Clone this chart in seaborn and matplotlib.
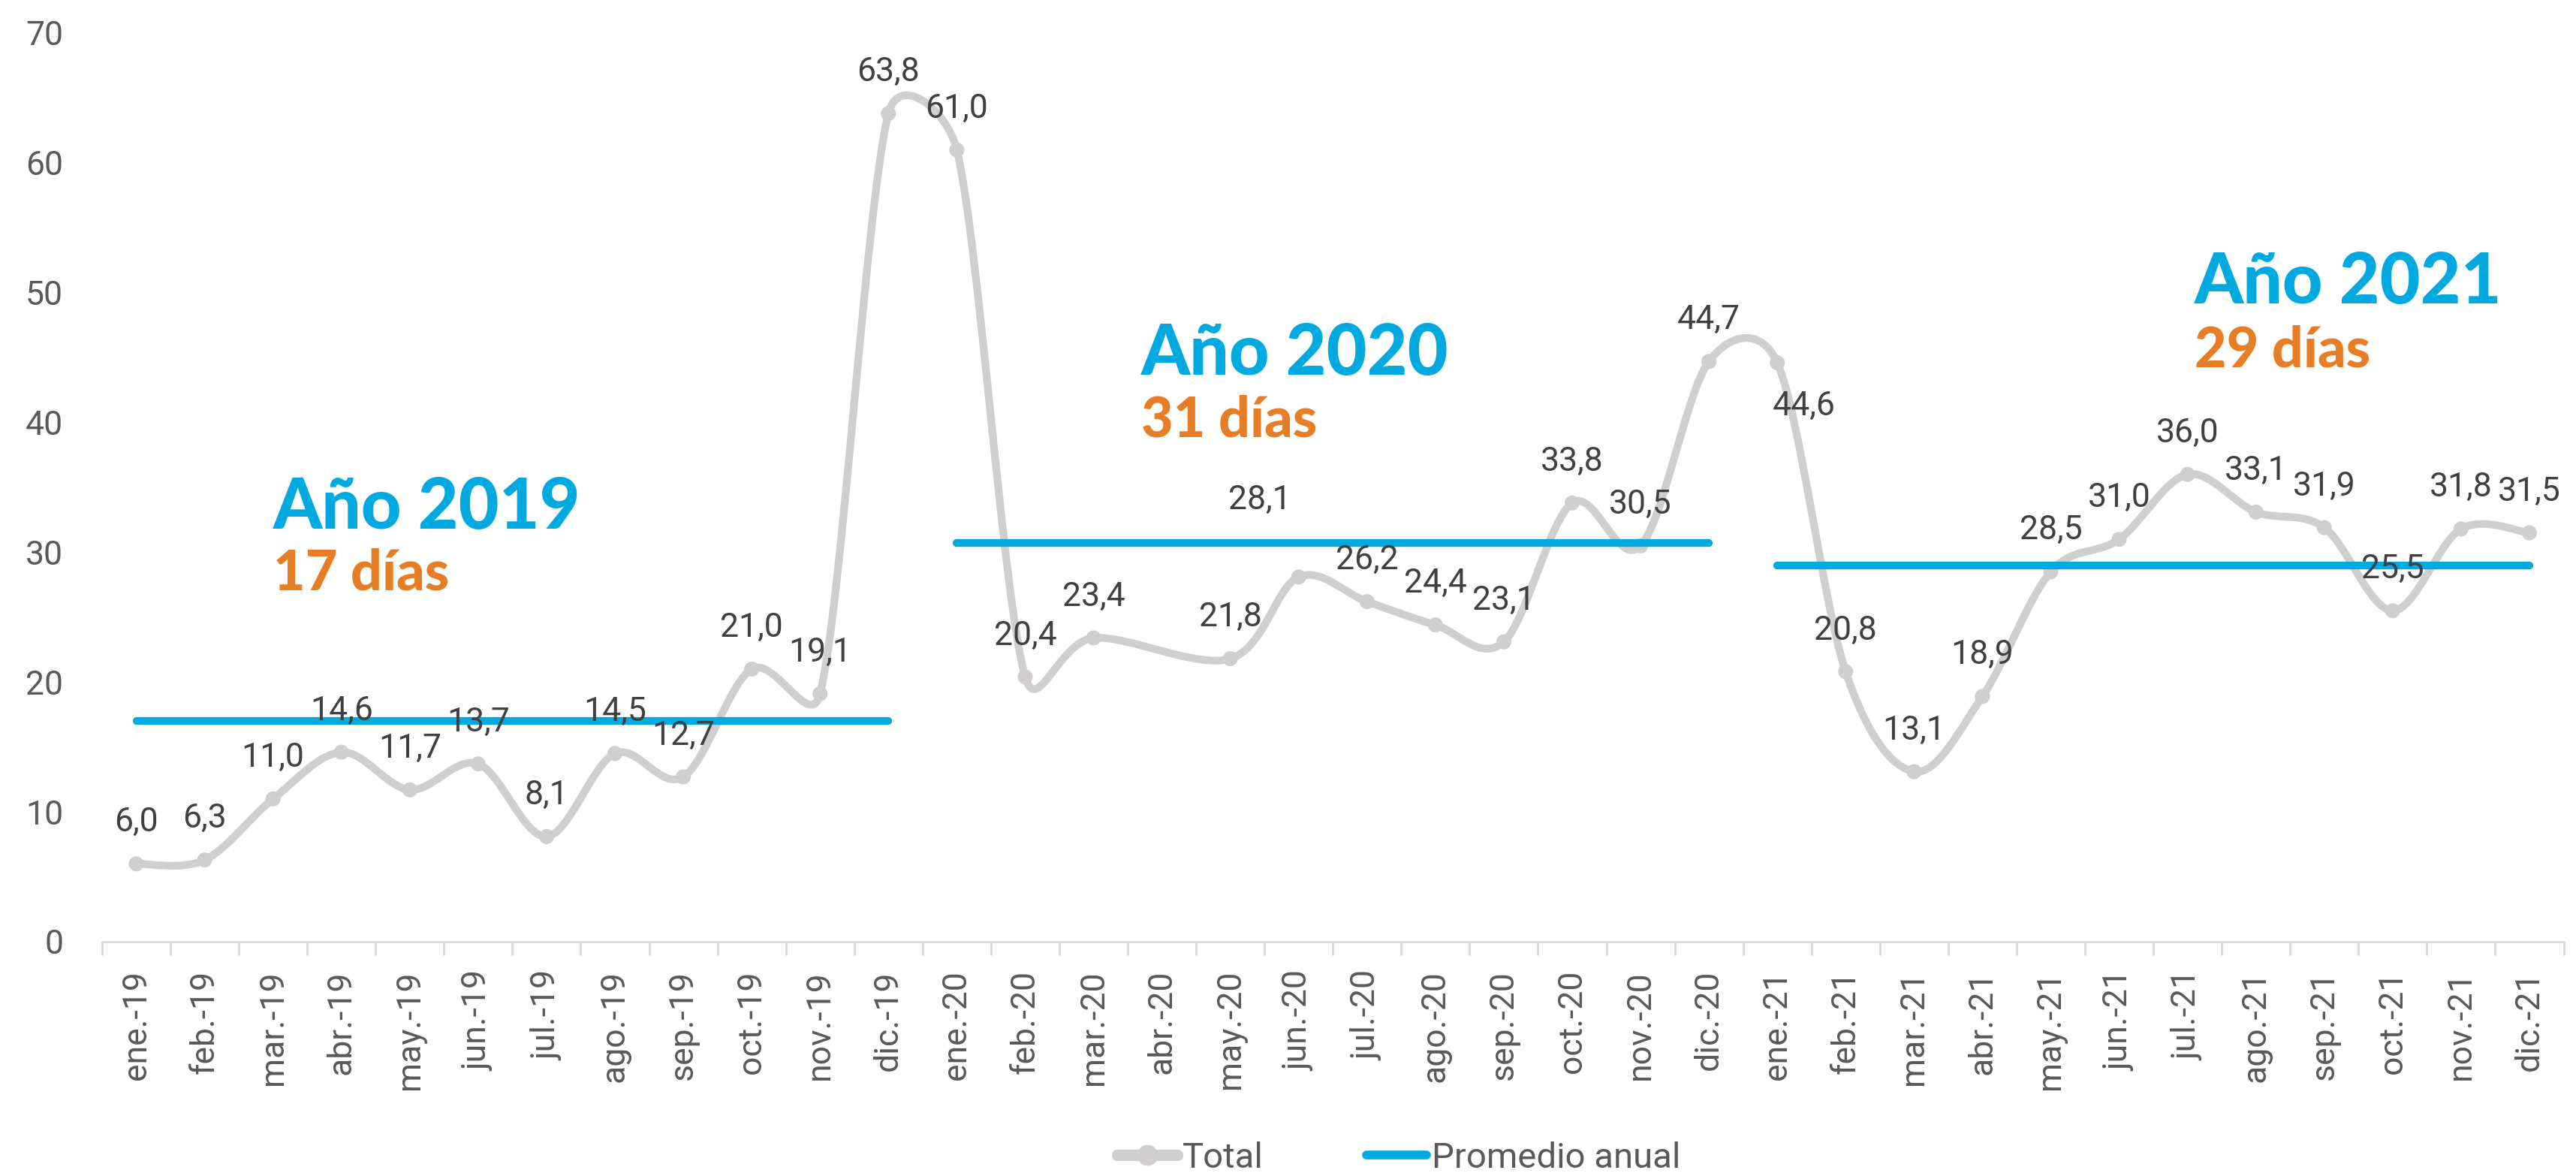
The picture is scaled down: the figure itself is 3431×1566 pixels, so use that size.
import numpy as np
import pandas as pd
import matplotlib
matplotlib.use("Agg")
import matplotlib.pyplot as plt
from matplotlib.path import Path
from matplotlib.patches import PathPatch
from matplotlib.lines import Line2D
from matplotlib.ticker import FixedLocator
import seaborn as sns

# ---------------- data ----------------
months = ["ene.-19", "feb.-19", "mar.-19", "abr.-19", "may.-19", "jun.-19",
          "jul.-19", "ago.-19", "sep.-19", "oct.-19", "nov.-19", "dic.-19",
          "ene.-20", "feb.-20", "mar.-20", "abr.-20", "may.-20", "jun.-20",
          "jul.-20", "ago.-20", "sep.-20", "oct.-20", "nov.-20", "dic.-20",
          "ene.-21", "feb.-21", "mar.-21", "abr.-21", "may.-21", "jun.-21",
          "jul.-21", "ago.-21", "sep.-21", "oct.-21", "nov.-21", "dic.-21"]
total = [6.0, 6.3, 11.0, 14.6, 11.7, 13.7, 8.1, 14.5, 12.7, 21.0, 19.1, 63.8,
         61.0, 20.4, 23.4, np.nan, 21.8, 28.1, 26.2, 24.4, 23.1, 33.8, 30.5, 44.7,
         44.6, 20.8, 13.1, 18.9, 28.5, 31.0, 36.0, 33.1, 31.9, 25.5, 31.8, 31.5]

year_titles = ["Año 2019", "Año 2020", "Año 2021"]
year_days = ["17 días", "31 días", "29 días"]
year_first = ["ene.-19", "ene.-20", "ene.-21"]
year_last = ["dic.-19", "dic.-20", "dic.-21"]
year_avg = [17.0, 30.7, 29.0]

series_names = ["Total", "Promedio anual"]

# ---------------- styles ----------------
GRAY = "#D0CECE"
BLUE = "#00A9DF"
ORANGE = "#E77E25"
LABEL_C = "#404040"
TICK_C = "#595959"
AXIS_C = "#D9D9D9"

# label offsets in points (default above the point)
default_offset = (0, 19.8)
label_offsets = {"jun.-20": (-18.5, 36.7), "ene.-21": (12.9, -20.9)}
# annotation text placement (x in category units, y baselines in data units)
title_x = [2.0, 14.7, 30.1]
title_y = [31.8, 43.7, 49.2]
days_y = [27.1, 38.9, 44.3]

sns.set_theme(style="white")
plt.rcParams["font.family"] = ["Roboto", "DejaVu Sans"]

W, H, DPI = 3431, 1566, 200
fig = plt.figure(figsize=(W / DPI, H / DPI), dpi=DPI)
ax = fig.add_axes([136 / W, 1 - 1254 / H, (3414.5 - 136) / W, (1254 - 44) / H])

pos = list(range(len(months)))
df = pd.DataFrame({"pos": pos, "mes": months, "total": total})
ax.set_xlim(-0.5, len(months) - 0.5)
ax.set_ylim(0, 70)

# smoothed line: Bezier path through the data points (display space)
valid = df.dropna()
P = ax.transData.transform(np.column_stack([valid["pos"], valid["total"]]))
n = len(P)
k = 0.55


def tangent(i, seg):
    a = P[i - 1] if i > 0 else P[i]
    b = P[i + 1] if i + 1 < n else P[i]
    t = (b - a) / 6.0
    L = np.linalg.norm(t)
    if L > k * seg and L > 0:
        t = t * (k * seg / L)
    return t


verts = [P[0]]
codes = [Path.MOVETO]
for i in range(n - 1):
    p1, p2 = P[i], P[i + 1]
    seg = np.linalg.norm(p2 - p1)
    verts += [p1 + tangent(i, seg), p2 - tangent(i + 1, seg), p2]
    codes += [Path.CURVE4] * 3
dverts = ax.transData.inverted().transform(np.array(verts))
patch = PathPatch(Path(dverts, codes), fill=False, edgecolor=GRAY, lw=3.7,
                  capstyle="round", joinstyle="round", zorder=2)
ax.add_patch(patch)

# markers
sns.scatterplot(data=df, x="pos", y="total", color=GRAY, s=52, edgecolor="none",
                ax=ax, zorder=3, legend=False)

# annual averages
for name, first, last, avg in zip(year_titles, year_first, year_last, year_avg):
    seg_df = pd.DataFrame({"pos": [months.index(first), months.index(last)],
                           "avg": [avg, avg]})
    sns.lineplot(data=seg_df, x="pos", y="avg", color=BLUE, lw=3.7,
                 solid_capstyle="round", ax=ax, zorder=4, legend=False)

# data labels
for p, m, v in zip(pos, months, total):
    if np.isnan(v):
        continue
    dx, dy = label_offsets.get(m, default_offset)
    ax.annotate(f"{v:.1f}".replace(".", ","), (p, v), xytext=(dx, dy),
                textcoords="offset points", ha="center", va="center",
                fontsize=16, color=LABEL_C, zorder=6)

# year annotations
for t, d, x, y1, y2 in zip(year_titles, year_days, title_x, title_y, days_y):
    ax.text(x, y1, t, fontfamily=["Lato", "DejaVu Sans"], fontweight="black",
            fontsize=33.5, color=BLUE, ha="left", va="baseline", zorder=7)
    ax.text(x, y2, d, fontfamily=["Lato", "DejaVu Sans"], fontweight="black",
            fontsize=26.5, color=ORANGE, ha="left", va="baseline", zorder=7)

# axes styling
for side in ["top", "right", "left"]:
    ax.spines[side].set_visible(False)
ax.spines["bottom"].set_color(AXIS_C)
ax.spines["bottom"].set_linewidth(1.0)
ax.set_xticks(pos)
ax.set_xticklabels(months, rotation=90)
ax.xaxis.set_minor_locator(FixedLocator(np.arange(-0.5, len(months), 1.0)))
ax.tick_params(axis="x", which="major", length=0, pad=13.7, labelsize=16,
               labelcolor=TICK_C)
ax.tick_params(axis="x", which="minor", length=6.5, width=1.0, color=AXIS_C,
               direction="out", bottom=True)
ax.set_yticks(range(0, 71, 10))
ax.tick_params(axis="y", length=0, pad=18.7, labelsize=16, labelcolor=TICK_C)
ax.set_xlabel("")
ax.set_ylabel("")
ax.grid(False)

# legend
handles = [Line2D([0], [0], color=GRAY, lw=5.5, marker="o", ms=9,
                  solid_capstyle="round"),
           Line2D([0], [0], color=BLUE, lw=4.2, solid_capstyle="round")]
leg = fig.legend(handles, series_names, loc="center", ncol=2,
                 bbox_to_anchor=(0.543, 0.0155), frameon=False, fontsize=17,
                 handlelength=1.7, handletextpad=0.15, columnspacing=2.9,
                 labelcolor=TICK_C)

fig.savefig("out.png", dpi=DPI)
